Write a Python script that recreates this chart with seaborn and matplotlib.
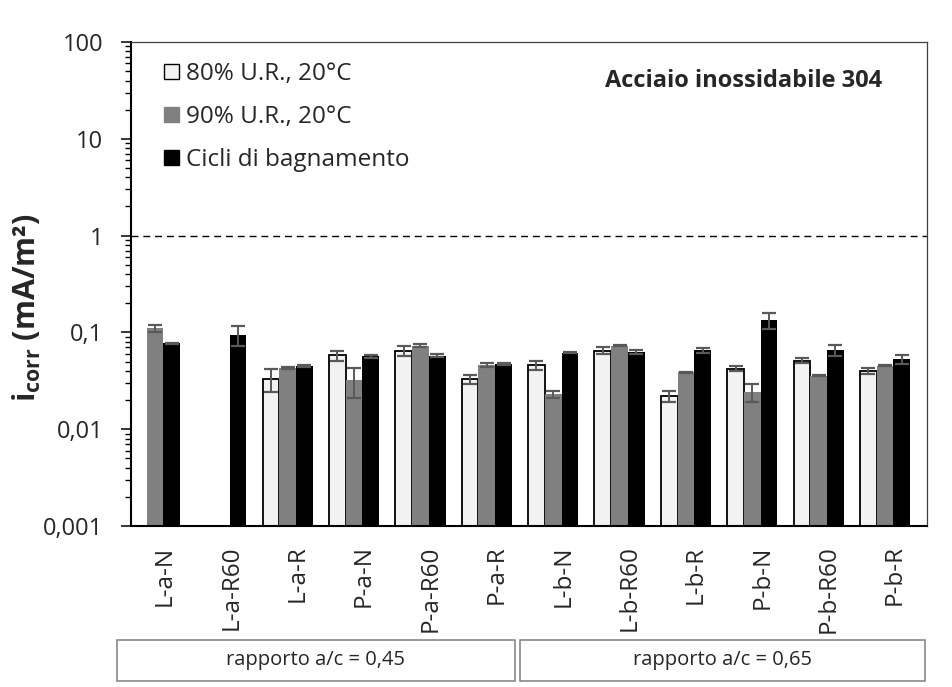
import numpy as np
import pandas as pd
import matplotlib
matplotlib.use("Agg")
import matplotlib.pyplot as plt
import seaborn as sns
from matplotlib.patches import Rectangle, Patch
from matplotlib.ticker import FixedLocator, FixedFormatter, LogLocator, NullFormatter

nan = np.nan
samples = ["L-a-N", "L-a-R60", "L-a-R", "P-a-N", "P-a-R60", "P-a-R",
           "L-b-N", "L-b-R60", "L-b-R", "P-b-N", "P-b-R60", "P-b-R"]
series_names = ["80% U.R., 20°C", "90% U.R., 20°C", "Cicli di bagnamento"]
ur80 = [nan, nan, 0.033, 0.058, 0.065, 0.033, 0.046, 0.065, 0.022, 0.042, 0.051, 0.040]
ur80_err = [nan, nan, 0.009, 0.007, 0.0077, 0.0035, 0.0048, 0.0055, 0.003, 0.0025, 0.003, 0.0025]
ur90 = [0.110, nan, 0.0425, 0.032, 0.073, 0.046, 0.023, 0.073, 0.0387, 0.024, 0.0357, 0.0454]
ur90_err = [0.008, nan, 0.001, 0.011, 0.002, 0.002, 0.002, 0.001, 0.0005, 0.005, 0.0005, 0.0005]
cicli = [0.077, 0.095, 0.045, 0.057, 0.0575, 0.047, 0.0617, 0.063, 0.0657, 0.134, 0.0657, 0.0527]
cicli_err = [0.001, 0.022, 0.001, 0.002, 0.002, 0.001, 0.0005, 0.003, 0.004, 0.025, 0.009, 0.006]
ytick_values = [0.001, 0.01, 0.1, 1, 10, 100]
ytick_labels = ["0,001", "0,01", "0,1", "1", "10", "100"]
threshold = 1.0
group_labels = ["rapporto a/c = 0,45", "rapporto a/c = 0,65"]
title_text = "Acciaio inossidabile 304"

colors = ["#f2f2f2", "#808080", "#000000"]
FONT = "Open Sans"

sns.set_theme(style="white")
plt.rcParams["font.family"] = [FONT, "DejaVu Sans"]
plt.rcParams["mathtext.fontset"] = "custom"
plt.rcParams["mathtext.rm"] = FONT
plt.rcParams["mathtext.bf"] = FONT + ":bold"

values = [ur80, ur90, cicli]
errors = [ur80_err, ur90_err, cicli_err]
rows = []
for name, vals, errs in zip(series_names, values, errors):
    for s, v, e in zip(samples, vals, errs):
        rows.append({"sample": s, "series": name, "value": v, "err": e})
df = pd.DataFrame(rows)

fig = plt.figure(figsize=(9.53, 6.87), dpi=100)
L, R, T, B = 131, 927, 42, 526
ax = fig.add_axes([L / 953, 1 - B / 687, (R - L) / 953, (B - T) / 687])
ax.set_yscale("log")

sns.barplot(data=df.dropna(subset=["value"]), x="sample", y="value", hue="series",
            order=samples, hue_order=series_names, palette=colors,
            width=0.755, gap=0, errorbar=None, legend=False, ax=ax,
            linewidth=0, saturation=1)

bar_containers = list(ax.containers)[:3]
for ci, cont in enumerate(bar_containers):
    errs = errors[ci]
    for p in cont.patches:
        xc = p.get_x() + p.get_width() / 2
        idx = int(round(xc))
        if ci == 0:
            p.set_edgecolor("black")
            p.set_linewidth(1.3)
        h = p.get_height()
        e = errs[idx]
        if not np.isnan(e):
            ax.errorbar(xc, h, yerr=e, fmt="none", ecolor="#595959",
                        elinewidth=1.4, capsize=4.7, capthick=1.6, zorder=5)

ax.set_ylim(0.001, 100)
ax.set_xlim(-0.362, 11.633)
ax.axhline(threshold, color="black", lw=1.0, ls=(0, (5, 3.5)), zorder=1)

ax.yaxis.set_major_locator(FixedLocator(ytick_values))
ax.yaxis.set_major_formatter(FixedFormatter(ytick_labels))
ax.yaxis.set_minor_locator(LogLocator(base=10, subs=np.arange(2, 10), numticks=20))
ax.yaxis.set_minor_formatter(NullFormatter())
ax.tick_params(axis="y", which="major", direction="out", length=7, width=1.1,
               color="black", labelsize=17, pad=13, left=True)
ax.tick_params(axis="y", which="minor", direction="out", length=4.5, width=1.0,
               color="black", left=True)

ax.set_xticks(np.arange(len(samples)) + 0.15)
ax.set_xticklabels(samples, rotation=90, fontsize=17.5)
ax.tick_params(axis="x", length=0, pad=14)
ax.set_xlabel("")

ax.set_ylabel(r"$\mathbf{i}_{\mathbf{corr}}$ (mA/m²)", fontsize=22, fontweight="bold")
ax.yaxis.set_label_coords(-0.11, 0.451)

for side in ["left", "bottom"]:
    ax.spines[side].set_color("black")
    ax.spines[side].set_linewidth(1.5)
for side in ["top", "right"]:
    ax.spines[side].set_color("#404040")
    ax.spines[side].set_linewidth(0.9)

handles = [Patch(facecolor=colors[0], edgecolor="black", linewidth=1.0),
           Patch(facecolor=colors[1], edgecolor=colors[1], linewidth=1.0),
           Patch(facecolor=colors[2], edgecolor=colors[2], linewidth=1.0)]
ax.legend(handles, series_names, loc="upper left", bbox_to_anchor=(0.02, 0.994),
          frameon=False, fontsize=17.5, handlelength=0.6, handleheight=0.6,
          handletextpad=0.3, labelspacing=0.78, borderaxespad=0.3)

ax.text(0.9435, 0.919, title_text, transform=ax.transAxes, ha="right", va="center",
        fontsize=17, fontweight="bold")

boxes = [(117, 515), (520, 925)]
for (x0, x1), lab in zip(boxes, group_labels):
    y0, y1 = 640, 681
    fig.patches.append(Rectangle((x0 / 953, 1 - y1 / 687), (x1 - x0) / 953, (y1 - y0) / 687,
                                 transform=fig.transFigure, fill=False,
                                 edgecolor="#7f7f7f", linewidth=1.1))
    fig.text((x0 + x1) / 2 / 953, 1 - (y0 + y1) / 2 / 687, lab, ha="center", va="center",
             fontsize=14.5)

fig.savefig("out.png", dpi=100, facecolor="white")
